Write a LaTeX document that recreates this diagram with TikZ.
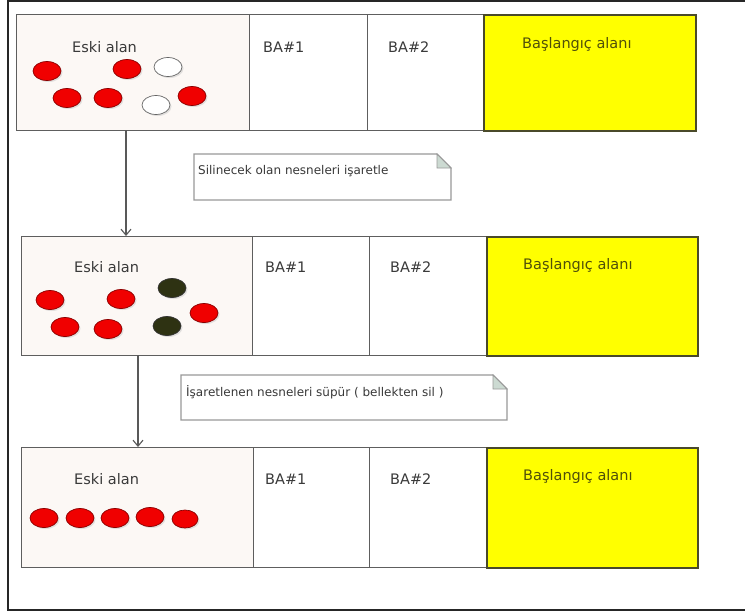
\documentclass[tikz,border=0pt]{standalone}
\usepackage{fontspec}
\setmainfont{DejaVu Sans}
\usetikzlibrary{arrows.meta,shapes.geometric,shadows}
\definecolor{boxline}{HTML}{5E5E5E}
\definecolor{oldfill}{HTML}{FCF8F5}
\definecolor{startfill}{HTML}{FFFF00}
\definecolor{startline}{HTML}{4A4A2A}
\definecolor{labelcol}{HTML}{3A3A3A}
\definecolor{startlabel}{HTML}{50500A}
\definecolor{objred}{HTML}{F00000}
\definecolor{objredline}{HTML}{8A0000}
\definecolor{objdark}{HTML}{2E3212}
\definecolor{notefold}{HTML}{CCDAD2}
\tikzset{
  region/.style={draw=boxline, line width=1.4pt, anchor=north west, inner sep=0pt},
  oldregion/.style={region, fill=oldfill},
  startregion/.style={region, draw=startline, line width=1.5pt, fill=startfill},
  lbl/.style={anchor=base west, inner sep=0pt, text=labelcol, font=\fontsize{14.5}{15}\selectfont},
  startlbl/.style={lbl, text=startlabel},
  obj/.style={ellipse, minimum width=28pt, minimum height=19pt, inner sep=0pt, line width=0.7pt,
              drop shadow={shadow xshift=1.5pt, shadow yshift=-1.5pt, fill=black!22}},
  live/.style={obj, fill=objred, draw=objredline},
  dead/.style={obj, fill=white, draw=black!60},
  marked/.style={obj, fill=objdark, draw=black!80},
  notebox/.style={draw=black!40, line width=1.2pt, fill=white},
  notetxt/.style={anchor=base west, inner sep=0pt, text=black!78, font=\fontsize{12}{13}\selectfont},
  flow/.style={draw=black!65, line width=1.1pt, -{Straight Barb[length=6pt,width=10pt]}}
}
\begin{document}
\begin{tikzpicture}[x=1pt,y=-1pt]
\useasboundingbox (0,0) rectangle (745,613);
\fill[white] (0,0) rectangle (745,613);

% outer frame (open on the right)
\draw[line width=1.8pt, black!85] (745,1) -- (8,1) -- (8,610) -- (745,610);

% ---------- row 1 ----------
\node[oldregion, minimum width=233pt, minimum height=116pt] (old1) at (16,14) {};
\node[region, minimum width=118pt, minimum height=116pt] (ba1a) at (249,14) {};
\node[region, minimum width=116pt, minimum height=116pt] (ba2a) at (367,14) {};
\node[startregion, minimum width=212pt, minimum height=116pt] (start1) at (483,14) {};
\node[lbl] (old1t) at (72,52) {Eski alan};
\node[lbl] (ba1at) at (263,52) {BA\#1};
\node[lbl] (ba2at) at (388,52) {BA\#2};
\node[startlbl] (start1t) at (522,48) {Başlangıç alanı};
\node[live] (o1a) at (47,71) {};
\node[live] (o1b) at (127,69) {};
\node[dead] (o1c) at (168,67) {};
\node[live] (o1d) at (67,98) {};
\node[live] (o1e) at (108,98) {};
\node[dead] (o1f) at (156,105) {};
\node[live] (o1g) at (192,96) {};

% ---------- note 1 ----------
\path[notebox] (194,154) -- (437,154) -- (451,168) -- (451,200) -- (194,200) -- cycle;
\path[draw=black!40, line width=0.8pt, fill=notefold] (437,154) -- (437,168) -- (451,168) -- cycle;
\node[notetxt] (n1) at (198,174) {Silinecek olan nesneleri işaretle};

% ---------- row 2 ----------
\node[oldregion, minimum width=231pt, minimum height=119pt] (old2) at (21,236) {};
\node[region, minimum width=117pt, minimum height=119pt] (ba1b) at (252,236) {};
\node[region, minimum width=117pt, minimum height=119pt] (ba2b) at (369,236) {};
\node[startregion, minimum width=211pt, minimum height=119pt] (start2) at (486,236) {};
\node[lbl] (old2t) at (74,272) {Eski alan};
\node[lbl] (ba1bt) at (265,272) {BA\#1};
\node[lbl] (ba2bt) at (390,272) {BA\#2};
\node[startlbl] (start2t) at (523,269) {Başlangıç alanı};
\node[live] (o2a) at (50,300) {};
\node[live] (o2b) at (121,299) {};
\node[marked] (o2c) at (172,288) {};
\node[live] (o2d) at (204,313) {};
\node[live] (o2e) at (65,327) {};
\node[live] (o2f) at (108,329) {};
\node[marked] (o2g) at (167,326) {};

% ---------- note 2 ----------
\path[notebox] (181,375) -- (493,375) -- (507,389) -- (507,420) -- (181,420) -- cycle;
\path[draw=black!40, line width=0.8pt, fill=notefold] (493,375) -- (493,389) -- (507,389) -- cycle;
\node[notetxt] (n2) at (186,396) {İşaretlenen nesneleri süpür ( bellekten sil )};

% ---------- row 3 ----------
\node[oldregion, minimum width=232pt, minimum height=120pt] (old3) at (21,447) {};
\node[region, minimum width=116pt, minimum height=120pt] (ba1c) at (253,447) {};
\node[region, minimum width=117pt, minimum height=120pt] (ba2c) at (369,447) {};
\node[startregion, minimum width=211pt, minimum height=120pt] (start3) at (486,447) {};
\node[lbl] (old3t) at (74,484) {Eski alan};
\node[lbl] (ba1ct) at (265,484) {BA\#1};
\node[lbl] (ba2ct) at (390,484) {BA\#2};
\node[startlbl] (start3t) at (523,480) {Başlangıç alanı};
\node[live] (o3a) at (44,518) {};
\node[live] (o3b) at (80,518) {};
\node[live] (o3c) at (115,518) {};
\node[live] (o3d) at (150,517) {};
\node[live, minimum width=26pt, minimum height=18pt] (o3e) at (185,519) {};

% ---------- steps ----------
\coordinate (s1) at (126,130);
\coordinate (s2) at (138,355);
\draw[flow] (s1) -- (s1 |- old2.north);
\draw[flow] (s2) -- (s2 |- old3.north);
\end{tikzpicture}
\end{document}
